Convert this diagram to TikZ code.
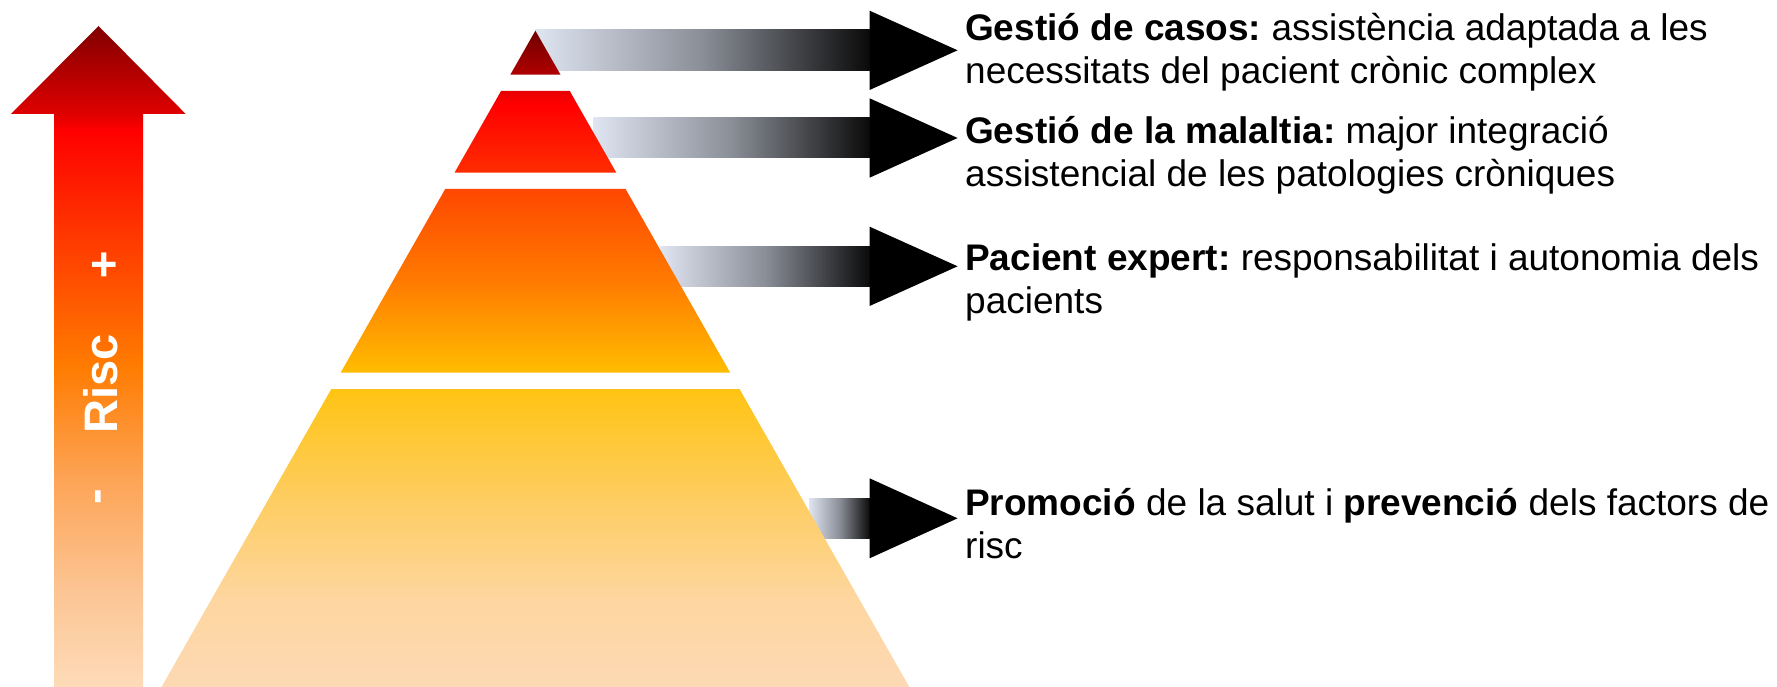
\documentclass[tikz,border=0pt]{standalone}
\usepackage{fontspec}
\setmainfont{Liberation Sans}
\frenchspacing
% pyramid colours (bottom to top)
\definecolor{p0}{HTML}{FDD9B4}
\definecolor{p1}{HTML}{FED6A0}
\definecolor{p2}{HTML}{FECD62}
\definecolor{p3}{HTML}{FFC414}
\definecolor{p4}{HTML}{FFBC00}
\definecolor{p5}{HTML}{FF7A00}
\definecolor{p6}{HTML}{FF4800}
\definecolor{p7}{HTML}{FF2C00}
\definecolor{p8}{HTML}{FF0000}
\definecolor{p9}{HTML}{E80000}
\definecolor{p10}{HTML}{B00000}
\definecolor{p11}{HTML}{700000}
% risk arrow colours (bottom to top)
\definecolor{r0}{HTML}{FDDBB8}
\definecolor{r1}{HTML}{FCC594}
\definecolor{r2}{HTML}{FDA558}
\definecolor{r3}{HTML}{FF7B00}
\definecolor{r4}{HTML}{FF0000}
\definecolor{r5}{HTML}{E00000}
\definecolor{r6}{HTML}{800000}
% grey arrows
\definecolor{shL}{HTML}{DFE5F1}
\definecolor{shM}{HTML}{8A8E97}
\definecolor{shR}{HTML}{0A0A0A}
\pgfdeclareverticalshading{pyrshade}{100bp}{color(0bp)=(p0); color(25bp)=(p0); color(31.6bp)=(p1); color(39.2bp)=(p2); color(47.6bp)=(p3); color(49bp)=(p4); color(56bp)=(p5); color(62.9bp)=(p6); color(64.2bp)=(p7); color(69.4bp)=(p8); color(70.4bp)=(p9); color(71.6bp)=(p10); color(75bp)=(p11); color(100bp)=(p11)}
\pgfdeclareverticalshading{riskshade}{100bp}{color(0bp)=(r0); color(25bp)=(r0); color(32.2bp)=(r1); color(40.5bp)=(r2); color(49.4bp)=(r3); color(67.1bp)=(r4); color(68.3bp)=(r5); color(75bp)=(r6); color(100bp)=(r6)}
\begin{document}
\begin{tikzpicture}[x=1pt,y=-1pt,
  txt/.style={anchor=base west, inner sep=0pt, align=left, font=\fontsize{37}{43}\selectfont},
  grayshaft/.style={left color=shL, right color=shR, middle color=shM},
  headfill/.style={fill=black},
  risctxt/.style={text=white, font=\bfseries\fontsize{47}{47}\selectfont, inner sep=0pt}]
\useasboundingbox (0,0) rectangle (1777,687);

% risk arrow
\shade[shading=riskshade] (54,687) -- (54,114) -- (11,114) -- (98.5,26) -- (185.7,114) -- (143,114) -- (143,687) -- cycle;
\node[risctxt] (plus) at (104.5,267) {+};
\node[risctxt, anchor=base, rotate=90] (risc) at (117,383.5) {Risc};
\node[risctxt, rotate=90] (minus) at (103,496.5) {-};

% grey arrows (behind the pyramid)
\shade[grayshaft] (535,30) rectangle (870,70.3);
\fill[headfill] (869.6,10.7) -- (957.6,50.3) -- (869.6,90) -- cycle;
\shade[grayshaft] (593.6,118) rectangle (870,158);
\fill[headfill] (869.6,98.3) -- (957.6,138) -- (869.6,177.7) -- cycle;
\shade[grayshaft] (660,246.3) rectangle (870,286);
\fill[headfill] (869.6,226.7) -- (957.6,266.3) -- (869.6,306) -- cycle;
\shade[grayshaft] (809,498) rectangle (870,538.7);
\fill[headfill] (869.6,478.3) -- (957.6,518.3) -- (869.6,558.3) -- cycle;

% pyramid
\shade[shading=pyrshade]
  (535.4,30.7) -- (560.5,74.7) -- (510.3,74.7) -- cycle
  (501.05,91) -- (569.75,91) -- (616.3,172.7) -- (454.5,172.7) -- cycle
  (445.2,189) -- (625.6,189) -- (730.2,372.7) -- (340.6,372.7) -- cycle
  (331.3,389) -- (739.5,389) -- (909.3,687) -- (161.5,687) -- cycle;

% texts (anchor = baseline of the last line)
\node[txt] (t1) at (965,83.5) {\textbf{Gestió de casos:} assistència adaptada a les\\necessitats del pacient crònic complex};
\node[txt] (t2) at (965,186) {\textbf{Gestió de la malaltia:} major integració\\assistencial de les patologies cròniques};
\node[txt] (t3) at (965,313.5) {\textbf{Pacient expert:} responsabilitat i autonomia dels\\pacients};
\node[txt] (t4) at (965,558) {\textbf{Promoció} de la salut i \textbf{prevenció} dels factors de\\risc};
\end{tikzpicture}
\end{document}
